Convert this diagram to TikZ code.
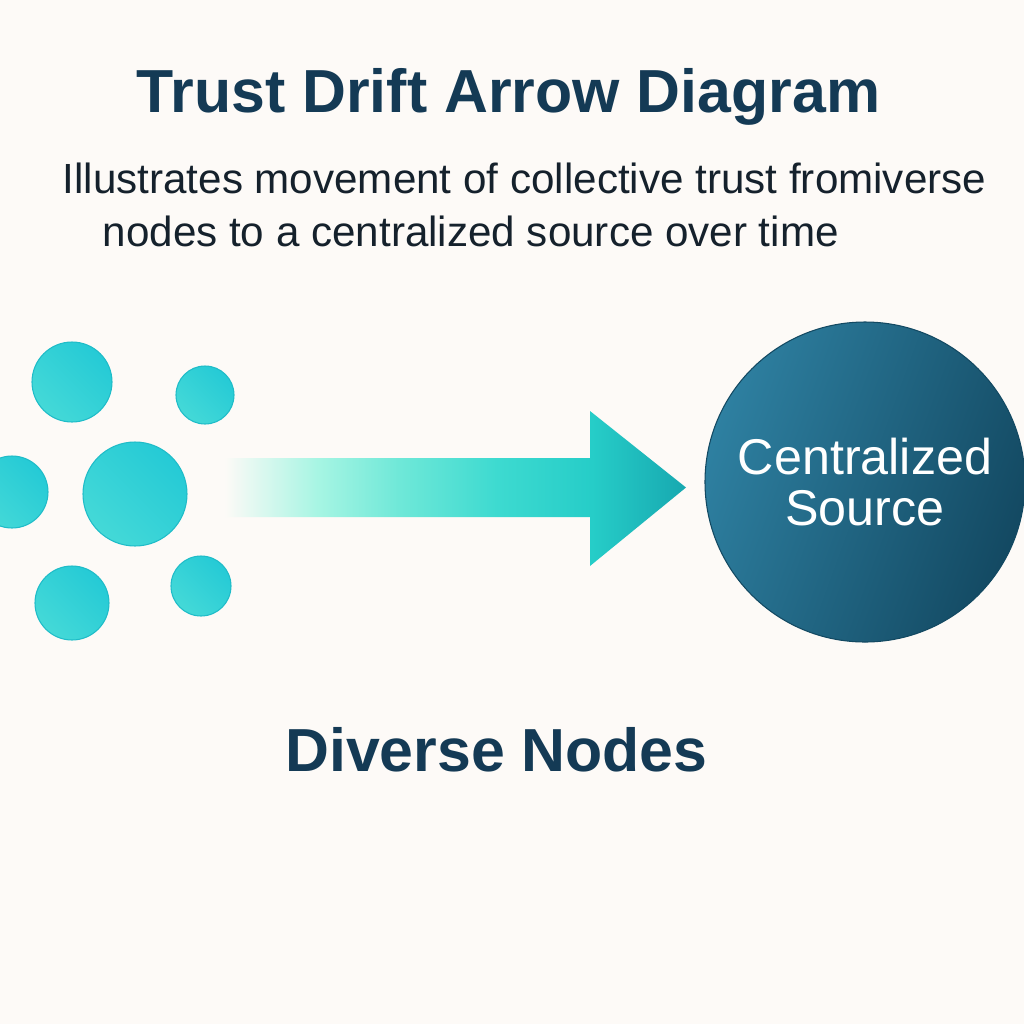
\documentclass[tikz,border=0pt]{standalone}
\usepackage{fontspec}
\setmainfont{Liberation Sans}
\usetikzlibrary{positioning}
\definecolor{paper}{HTML}{FDFAF7}
\definecolor{ink}{HTML}{143A55}
\definecolor{blurbink}{HTML}{15212C}
\definecolor{dotlight}{HTML}{44D9D7}
\definecolor{dotdark}{HTML}{25CAD6}
\definecolor{dotedge}{HTML}{1FBCC8}
\definecolor{srclight}{HTML}{2E80A1}
\definecolor{srcdark}{HTML}{134962}
\definecolor{mint}{HTML}{A6F5E3}
\definecolor{mintmid}{HTML}{6FE8D8}
\definecolor{aqua}{HTML}{3DDAD0}
\definecolor{aquadeep}{HTML}{26CDC8}
\definecolor{aquadark}{HTML}{17A8B0}
\pgfdeclarehorizontalshading{driftshade}{100bp}{color(0bp)=(paper); color(26bp)=(paper);
  color(36bp)=(mint); color(44.5bp)=(mintmid); color(55bp)=(aqua); color(65bp)=(aquadeep);
  color(75bp)=(aquadark); color(100bp)=(aquadark)}
\tikzstyle{dot}=[circle, draw=dotedge, line width=0.3pt, inner sep=0pt,
  top color=dotlight, bottom color=dotdark, shading angle=135]
\tikzstyle{source}=[circle, draw=srcdark, line width=0.3pt, inner sep=0pt, minimum size=32mm,
  left color=srclight, right color=srcdark, shading angle=70,
  text=white, align=center, font=\fontsize{14.3pt}{14.6pt}\selectfont]
\tikzstyle{heading}=[anchor=base, text=ink, inner sep=0pt, font=\bfseries\fontsize{17.3pt}{20pt}\selectfont]
\tikzstyle{blurb}=[anchor=base west, text=blurbink, inner sep=0pt, font=\fontsize{12pt}{14pt}\selectfont]

\begin{document}
\begin{tikzpicture}
  \fill[paper] (0,0) rectangle (10.24,-10.24);
  \useasboundingbox (0,0) rectangle (10.24,-10.24);

  \node[heading] (title) at (5.085,-1.12) {Trust Drift Arrow Diagram};
  \node[blurb] (line1) at (0.62,-1.93) {Illustrates movement of collective trust fromiverse};
  \node[blurb] (line2) at (1.02,-2.46) {nodes to a centralized source over time};

  % the scattered nodes
  \node[dot, minimum size=10.4mm] (hub) at (1.35,-4.94) {};
  \node[dot, minimum size=8mm] (nw) at (0.72,-3.82) {};
  \node[dot, minimum size=5.8mm] (ne) at (2.05,-3.95) {};
  \node[dot, minimum size=7.2mm] (w) at (0.12,-4.92) {};
  \node[dot, minimum size=7.4mm] (sw) at (0.72,-6.03) {};
  \node[dot, minimum size=6mm] (se) at (2.01,-5.86) {};

  \node[source] (src) at (8.65,-4.82) {Centralized\\Source};

  % the drift arrow
  \coordinate (tail) at (2.15,-4.875);
  \coordinate (tip) at (6.86,-4.875);
  \shade[shading=driftshade] ([yshift=2.95mm]tail) -- (5.90,-4.58) -- (5.90,-4.11) -- (tip)
    -- (5.90,-5.66) -- (5.90,-5.17) -- ([yshift=-2.95mm]tail) -- cycle;

  \node[heading] (label) at (4.965,-7.71) {Diverse Nodes};
\end{tikzpicture}
\end{document}
